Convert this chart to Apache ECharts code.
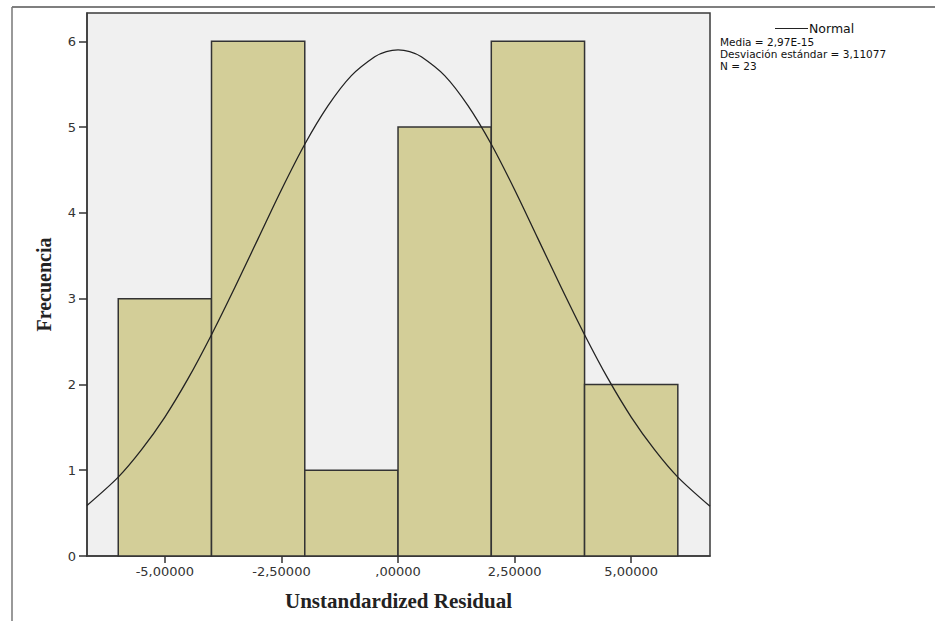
<!DOCTYPE html>
<html>
<head>
<meta charset="utf-8">
<script src="https://cdn.jsdelivr.net/npm/echarts@6/dist/echarts.min.js"></script>
<style>html,body{margin:0;padding:0;background:#fff;}#c{width:935px;height:621px;}</style>
</head>
<body>
<div id="c"></div>
<script>
// Histogram bins (Unstandardized Residual)
var binStart = [-6, -4, -2, 0, 2, 4];
var binEnd   = [-4, -2, 0, 2, 4, 6];
var counts   = [3, 6, 1, 5, 6, 2];

// Normal curve points
var curveX = [-6.67, -6, -5.5, -5, -4.5, -4, -3.5, -3, -2.5, -2, -1.5, -1, -0.5, -0.25, 0, 0.25, 0.5, 1, 1.5, 2, 2.5, 3, 3.5, 4, 4.5, 5, 5.5, 6, 6.69];
var curveY = [0.59, 0.92, 1.24, 1.62, 2.07, 2.58, 3.13, 3.70, 4.27, 4.80, 5.25, 5.60, 5.82, 5.88, 5.90, 5.88, 5.82, 5.60, 5.25, 4.80, 4.27, 3.70, 3.13, 2.58, 2.07, 1.62, 1.24, 0.92, 0.58];

// Tick values and labels
var xTickValues = [-5, -2.5, 0, 2.5, 5];
var xTickLabels = ['-5,00000', '-2,50000', ',00000', '2,50000', '5,00000'];
var yTickValues = [0, 1, 2, 3, 4, 5, 6];

var legendLines = ['Media = 2,97E-15', 'Desviación estándar = 3,11077', 'N = 23'];

var barData = binStart.map(function (s, i) { return [s, binEnd[i], counts[i]]; });
var lineData = curveX.map(function (x, i) { return [x, curveY[i]]; });

var statTexts = legendLines.map(function (t, i) {
  return {
    type: 'text', left: 720, top: 36 + i * 12,
    style: { text: t, font: '10.5px "DejaVu Sans", Verdana, sans-serif', fill: '#111' }
  };
});

var chart = echarts.init(document.getElementById('c'), null, { renderer: 'svg' });
chart.setOption({
  animation: false,
  backgroundColor: '#ffffff',
  grid: {
    left: 87, top: 13, right: 225, bottom: 65,
    show: true, backgroundColor: '#f0f0f0', borderColor: '#3a3a3a', borderWidth: 1.5
  },
  legend: {
    data: ['Normal'],
    left: 775, top: 22, padding: 0,
    icon: 'rect', itemWidth: 33, itemHeight: 1, itemGap: 2,
    textStyle: { fontFamily: 'DejaVu Sans, Verdana, sans-serif', fontSize: 12.5, color: '#111', padding: [0, 0, 0, -4] }
  },
  graphic: [
    { type: 'line', shape: { x1: 12, y1: 7, x2: 935, y2: 7 }, style: { stroke: '#555', lineWidth: 1.5 } },
    { type: 'line', shape: { x1: 12, y1: 7, x2: 12, y2: 621 }, style: { stroke: '#777', lineWidth: 1.5 } }
  ].concat(statTexts),
  xAxis: {
    type: 'value', min: -6.67, max: 6.69,
    name: 'Unstandardized Residual', nameLocation: 'middle', nameGap: 34,
    nameTextStyle: { fontFamily: 'Liberation Serif, Times New Roman, serif', fontWeight: 'bold', fontSize: 21, color: '#222' },
    axisLine: { show: true, onZero: false, lineStyle: { color: '#3a3a3a', width: 1.5 } },
    axisTick: { show: true, length: 7, lineStyle: { color: '#333', width: 1.5 }, customValues: xTickValues },
    axisLabel: {
      customValues: xTickValues, margin: 9,
      fontFamily: 'DejaVu Sans, Verdana, sans-serif', fontSize: 13, color: '#333',
      formatter: function (v) { var i = xTickValues.indexOf(v); return i >= 0 ? xTickLabels[i] : ''; }
    },
    splitLine: { show: false }
  },
  yAxis: {
    type: 'value', min: 0, max: 6.33,
    name: 'Frecuencia', nameLocation: 'middle', nameGap: 33, nameRotate: 90,
    nameTextStyle: { fontFamily: 'Liberation Serif, Times New Roman, serif', fontWeight: 'bold', fontSize: 20, color: '#222' },
    axisLine: { show: true, onZero: false, lineStyle: { color: '#3a3a3a', width: 1.5 } },
    axisTick: { show: true, length: 8, lineStyle: { color: '#333', width: 1.5 }, customValues: yTickValues },
    axisLabel: {
      customValues: yTickValues, margin: 11,
      fontFamily: 'DejaVu Sans, Verdana, sans-serif', fontSize: 13, color: '#333'
    },
    splitLine: { show: false }
  },
  series: [
    {
      name: 'Histograma',
      type: 'custom',
      data: barData,
      encode: { x: [0, 1], y: 2 },
      renderItem: function (params, api) {
        var p0 = api.coord([api.value(0), api.value(2)]);
        var p1 = api.coord([api.value(1), 0]);
        return {
          type: 'rect',
          shape: { x: p0[0], y: p0[1], width: p1[0] - p0[0], height: p1[1] - p0[1] },
          style: { fill: '#d3ce98', stroke: '#333', lineWidth: 1.5 }
        };
      },
      z: 2
    },
    {
      name: 'Normal',
      type: 'line',
      data: lineData,
      smooth: 0.3,
      showSymbol: false,
      lineStyle: { color: '#222', width: 1.3 },
      itemStyle: { color: '#222' },
      z: 3
    }
  ]
});
</script>
</body>
</html>
